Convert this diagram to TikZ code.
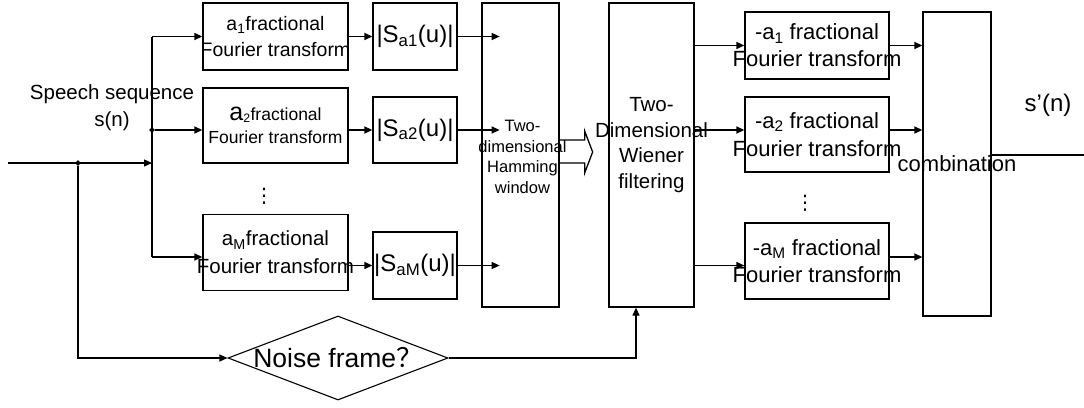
\documentclass[tikz,border=0pt]{standalone}
\usepackage{fontspec}
\setmainfont{Liberation Sans}
\newfontfamily\cjkfont{Noto Sans CJK SC}
\newfontfamily\dotsfont{DejaVu Sans}
\usetikzlibrary{arrows.meta,shapes.geometric}
\newcommand{\zw}[1]{\makebox[0pt]{#1}}
\newcommand{\fs}[1]{\fontsize{#1}{1.35\dimexpr#1pt\relax}\selectfont}

\begin{document}
\begin{tikzpicture}[x=1pt,y=-1pt,
  box/.style={draw,line width=1.3pt,inner sep=0pt,align=center},
  arr/.style={-{Triangle[length=8pt,width=7pt]},line width=1.3pt},
  ln/.style={line width=1.3pt},
  jdot/.style={diamond,fill,inner sep=0pt,minimum size=6pt}]
\useasboundingbox (0,0) rectangle (1084,407);

\node[box,minimum width=145pt,minimum height=67pt,font=\fs{19.5}] (b1) at (275.5,36.5) {\zw{a\textsubscript{1}fractional}\\\zw{Fourier transform}};
\node[box,minimum width=145pt,minimum height=75pt,font=\fs{17.5}] (b2) at (275.5,125.5) {\zw{{\fontsize{25}{27}\selectfont a}\textsubscript{2}fractional}\\\zw{Fourier transform}};
\node[box,minimum width=145pt,minimum height=76pt,font=\fs{20.5}] (bM) at (275.5,252.5) {\zw{a\textsubscript{M}fractional}\\\zw{Fourier transform}};

\node[box,minimum width=84pt,minimum height=67pt,font=\fs{24}] (s1) at (415,36.5) {\zw{|S\textsubscript{a1}(u)|}};
\node[box,minimum width=84pt,minimum height=66pt,font=\fs{24}] (s2) at (415,130) {\zw{|S\textsubscript{a2}(u)|}};
\node[box,minimum width=84pt,minimum height=67pt,font=\fs{24}] (sM) at (415,265.5) {\zw{|S\textsubscript{aM}(u)|}};

\node[box,minimum width=77pt,minimum height=304pt,
  label={[align=center,font=\fontsize{16.5}{20.5}\selectfont,xshift=2pt,yshift=-2pt]center:Two-\\dimensional\\Hamming\\window}] (ham) at (520.5,155) {};
\node[box,minimum width=85pt,minimum height=304pt,
  label={[align=center,font=\fontsize{20.5}{25.5}\selectfont,yshift=10pt]center:Two-\\Dimensional\\Wiener\\filtering}] (wien) at (651.5,155) {};

\node[box,minimum width=144pt,minimum height=67pt,font=\fontsize{22}{27}\selectfont] (r1) at (817,45.5) {\zw{-a\textsubscript{1} fractional}\\\zw{Fourier transform}};
\node[box,minimum width=144pt,minimum height=75pt,font=\fontsize{22}{28}\selectfont] (r2) at (817,134.5) {\zw{-a\textsubscript{2} fractional}\\\zw{Fourier transform}};
\node[box,minimum width=144pt,minimum height=76pt,font=\fontsize{22}{27}\selectfont] (rM) at (817,261) {\zw{-a\textsubscript{M} fractional}\\\zw{Fourier transform}};

\node[box,minimum width=68pt,minimum height=304pt,font=\fs{22}] (comb) at (957,164) {\zw{combination}};

\node[diamond,draw,line width=1.1pt,inner sep=0pt,minimum width=220pt,minimum height=84pt,font=\fs{26.5}] (noise) at (338,358) {\zw{Noise frame{\cjkfont ？}}};

\node[align=center,font=\fontsize{20.5}{27}\selectfont] (speech) at (112,108) {Speech sequence\\s(n)};
\node[font=\fs{24}] (out) at (1048,105) {s’(n)};
\node[font=\fs{20}] (vl) at (264,196) {\dotsfont ⋮};
\node[font=\fs{20}] (vr) at (805,203) {\dotsfont ⋮};

\coordinate (in) at (8,163);
\coordinate (t1) at (152,36.5);
\coordinate (tM) at (152,257);
\coordinate (end) at (1084,155);
\node[jdot] (j1) at (78,163) {};
\node[jdot] (j2) at (152,130) {};

\draw[arr] (in) -- (in -| j2);
\draw[ln] (t1) -- (tM);
\draw[arr] (t1) -- (b1.west |- t1);
\draw[arr] (j2) -- (b2.west |- j2);
\draw[arr] (tM) -- (bM.west |- tM);

\draw[arr] (b1.east |- s1) -- (s1.west);
\draw[arr] (b2.east |- s2) -- (s2.west);
\draw[arr] (bM.east |- sM) -- (sM.west);
\foreach \s in {s1,s2,sM} \draw[arr] (\s.east) -- ++(42,0);

\draw[ln,line join=miter] ([yshift=15pt]ham.east) -- ++(25,0) -- ++(0,-9) -- ++(8,21) -- ++(-8,21) -- ++(0,-10) -- ++(-25,0);

\draw[arr] (wien.east |- r1.west) -- (r1.west);
\draw[arr] (wien.east |- s2) -- (r2.west |- s2);
\draw[arr] (wien.east |- sM) -- (rM.west |- sM);

\draw[arr] (r1.east) -- (comb.west |- r1.east);
\draw[arr] (r2.east |- s2) -- (comb.west |- s2);
\draw[arr] (rM.east |- tM) -- (comb.west |- tM);
\draw[ln] (end -| comb.east) -- (end);

\draw[arr] (j1) |- (noise.west);
\draw[arr] (noise.east) -| ([xshift=-15.5pt]wien.south);

\end{tikzpicture}
\end{document}
